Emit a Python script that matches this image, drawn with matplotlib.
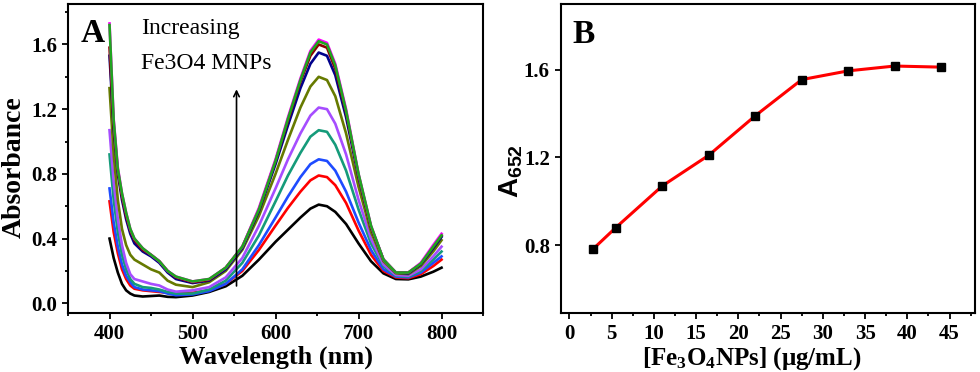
import matplotlib
matplotlib.use('Agg')
import matplotlib.pyplot as plt
from matplotlib.ticker import MultipleLocator, FormatStrFormatter

plt.rcParams['font.family'] = 'Liberation Serif'
plt.rcParams['font.weight'] = 'bold'
plt.rcParams['mathtext.default'] = 'regular'

# ---- panel A : UV-vis spectra ----
wavelength = [400, 405, 410, 415, 420, 425, 430, 440, 450, 460, 470, 480, 500, 520, 540, 560,
              580, 600, 615, 630, 642, 652, 662, 672, 685, 700, 715, 730, 745, 760, 775, 790, 800]

spec_black = [0.40, 0.28, 0.19, 0.12, 0.08, 0.06, 0.048, 0.042, 0.045, 0.048, 0.040, 0.038, 0.048, 0.070, 0.105, 0.17,
              0.27, 0.38, 0.455, 0.53, 0.585, 0.61, 0.60, 0.565, 0.49, 0.37, 0.26, 0.185, 0.15, 0.148, 0.165, 0.195, 0.22]
spec_red = [0.63, 0.44, 0.31, 0.21, 0.15, 0.11, 0.09, 0.08, 0.075, 0.07, 0.065, 0.065, 0.065, 0.08, 0.12, 0.20,
            0.33, 0.48, 0.59, 0.69, 0.76, 0.79, 0.78, 0.73, 0.62, 0.45, 0.30, 0.20, 0.16, 0.155, 0.18, 0.23, 0.27]
spec_blue = [0.71, 0.50, 0.35, 0.24, 0.17, 0.13, 0.10, 0.085, 0.08, 0.075, 0.06, 0.05, 0.055, 0.075, 0.12, 0.21,
             0.36, 0.53, 0.66, 0.78, 0.86, 0.89, 0.88, 0.82, 0.69, 0.50, 0.33, 0.21, 0.165, 0.16, 0.19, 0.25, 0.29]
spec_cyan = [0.92, 0.64, 0.44, 0.30, 0.21, 0.15, 0.12, 0.10, 0.095, 0.085, 0.07, 0.06, 0.06, 0.085, 0.14, 0.25,
             0.42, 0.63, 0.79, 0.93, 1.03, 1.07, 1.06, 0.98, 0.82, 0.58, 0.37, 0.23, 0.17, 0.165, 0.20, 0.27, 0.32]
spec_violet = [1.07, 0.75, 0.52, 0.36, 0.25, 0.18, 0.15, 0.135, 0.12, 0.11, 0.085, 0.072, 0.08, 0.10, 0.16, 0.28,
               0.48, 0.71, 0.89, 1.05, 1.16, 1.21, 1.20, 1.11, 0.92, 0.64, 0.40, 0.24, 0.175, 0.17, 0.21, 0.29, 0.35]
spec_olive = [1.33, 0.92, 0.64, 0.46, 0.36, 0.30, 0.27, 0.24, 0.21, 0.19, 0.14, 0.115, 0.10, 0.13, 0.20, 0.33,
              0.54, 0.80, 1.01, 1.21, 1.34, 1.40, 1.38, 1.28, 1.05, 0.72, 0.44, 0.26, 0.185, 0.18, 0.23, 0.32, 0.39]
spec_navy = [1.53, 1.08, 0.80, 0.64, 0.52, 0.43, 0.37, 0.32, 0.29, 0.25, 0.19, 0.15, 0.125, 0.14, 0.21, 0.34,
             0.57, 0.86, 1.10, 1.33, 1.48, 1.55, 1.53, 1.41, 1.15, 0.78, 0.47, 0.27, 0.19, 0.185, 0.24, 0.34, 0.41]
spec_wine = [1.58, 1.10, 0.82, 0.66, 0.54, 0.45, 0.39, 0.33, 0.30, 0.26, 0.20, 0.16, 0.13, 0.145, 0.22, 0.35,
             0.58, 0.88, 1.13, 1.37, 1.53, 1.60, 1.58, 1.45, 1.18, 0.79, 0.47, 0.27, 0.19, 0.19, 0.245, 0.35, 0.42]
spec_magenta = [1.73, 1.14, 0.84, 0.68, 0.56, 0.46, 0.40, 0.34, 0.30, 0.26, 0.20, 0.165, 0.135, 0.15, 0.22, 0.35,
                0.59, 0.89, 1.15, 1.39, 1.56, 1.63, 1.61, 1.48, 1.20, 0.80, 0.48, 0.27, 0.19, 0.19, 0.25, 0.36, 0.43]
spec_green = [1.72, 1.13, 0.83, 0.68, 0.56, 0.46, 0.40, 0.34, 0.30, 0.26, 0.20, 0.165, 0.135, 0.15, 0.22, 0.35,
              0.58, 0.88, 1.14, 1.38, 1.55, 1.62, 1.60, 1.47, 1.19, 0.80, 0.48, 0.27, 0.19, 0.19, 0.245, 0.35, 0.42]

spectra = [spec_black, spec_red, spec_blue, spec_cyan, spec_violet,
           spec_olive, spec_navy, spec_wine, spec_magenta, spec_green]
colors = ['#000000', '#FF0000', '#1E4BFF', '#159B7A', '#A64DFF',
          '#667A00', '#00008B', '#8B0000', '#FF00FF', '#1FA51F']

# ---- panel B : A652 vs concentration ----
conc = [2.75, 5.5, 11, 16.5, 22, 27.5, 33, 38.5, 44]
a652 = [0.78, 0.88, 1.07, 1.21, 1.39, 1.555, 1.595, 1.617, 1.612]

fig = plt.figure(figsize=(9.8, 3.72), dpi=100)
axA = fig.add_axes([0.0694, 0.1586, 0.4235, 0.8306])
axB = fig.add_axes([0.5724, 0.1586, 0.4224, 0.8306])

for s, c in zip(spectra, colors):
    axA.plot(wavelength, s, color=c, lw=1.9)

axA.set_xlim(350, 850)
axA.set_ylim(-0.06, 1.85)
axA.xaxis.set_major_locator(MultipleLocator(100))
axA.xaxis.set_minor_locator(MultipleLocator(50))
axA.yaxis.set_major_locator(MultipleLocator(0.4))
axA.yaxis.set_minor_locator(MultipleLocator(0.2))
axA.yaxis.set_major_formatter(FormatStrFormatter('%.1f'))
axA.set_xlabel('Wavelength (nm)', fontsize=19, fontweight='bold')
axA.set_ylabel('Absorbance', fontsize=20, fontweight='bold')
axA.xaxis.set_label_coords(0.5, -0.105)
axA.yaxis.set_label_coords(-0.10, 0.471)
axA.text(0.03, 0.955, 'A', transform=axA.transAxes, fontsize=24, fontweight='bold', va='top')
axA.text(0.176, 0.955, 'Increasing', transform=axA.transAxes, fontsize=17, fontweight='normal', va='top')
axA.text(0.176, 0.84, 'Fe3O4 MNPs', transform=axA.transAxes, fontsize=17, fontweight='normal', va='top')
axA.annotate('', xy=(553, 1.34), xytext=(553, 0.09),
             arrowprops=dict(arrowstyle='->', color='black', lw=1.2))

axB.plot(conc, a652, color='#FF0000', lw=2.2, marker='s', ms=6, mfc='black', mec='black')
axB.set_xlim(-1, 48)
axB.set_ylim(0.49, 1.90)
axB.xaxis.set_major_locator(MultipleLocator(5))
axB.xaxis.set_minor_locator(MultipleLocator(2.5))
axB.yaxis.set_major_locator(MultipleLocator(0.4))
axB.yaxis.set_major_formatter(FormatStrFormatter('%.1f'))
axB.set_xlabel('[Fe$_3$O$_4$NPs] (μg/mL)', fontsize=18, fontweight='bold')
axB.set_ylabel('A$_{652}$', fontsize=20, fontweight='bold', family='Liberation Sans')
axB.xaxis.set_label_coords(0.461, -0.105)
axB.yaxis.set_label_coords(-0.087, 0.46)
axB.text(0.028, 0.95, 'B', transform=axB.transAxes, fontsize=24, fontweight='bold', va='top')

for ax in (axA, axB):
    for sp in ax.spines.values():
        sp.set_linewidth(1.5)
    ax.tick_params(which='both', direction='out', top=False, right=False, width=1.3)
    ax.tick_params(which='major', length=4, labelsize=15, pad=4)
    ax.tick_params(which='minor', length=2.5)
    for lab in ax.get_xticklabels() + ax.get_yticklabels():
        lab.set_fontweight('bold')

fig.savefig('out.png', dpi=100)
